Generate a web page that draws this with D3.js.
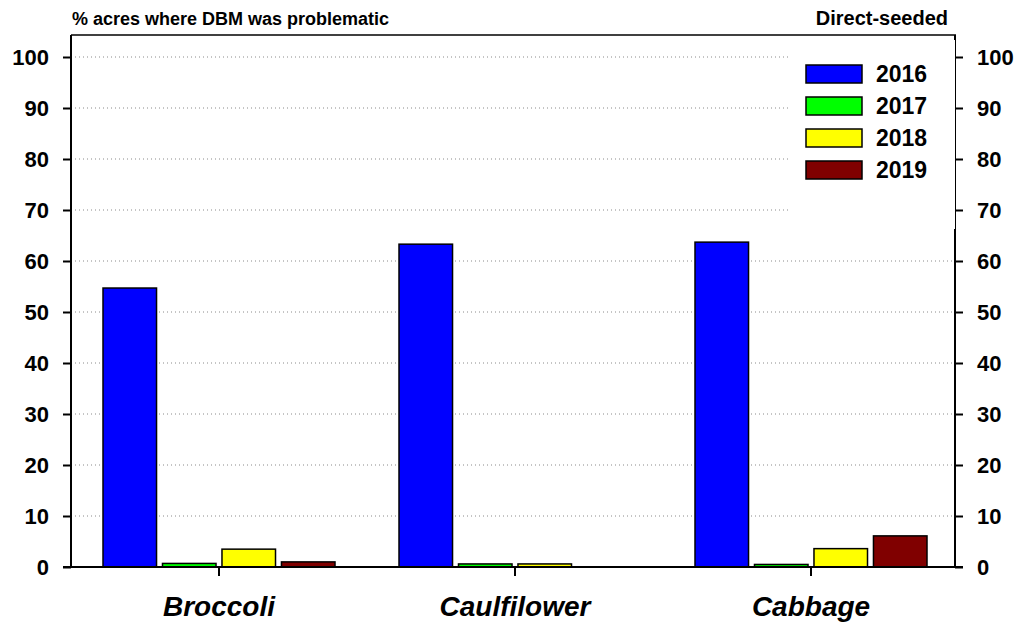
<!DOCTYPE html>
<html>
<head>
<meta charset="utf-8">
<script src="https://cdn.jsdelivr.net/npm/d3@7"></script>
<style>
  body { margin: 0; background: #fff; }
  text { font-family: "Liberation Sans", Arial, sans-serif; font-weight: bold; fill: #000; }
</style>
</head>
<body>
<div id="chart"></div>
<script>
// Data
const crops = ["Broccoli", "Caulfilower", "Cabbage"];
const years = ["2016", "2017", "2018", "2019"];
const yearColors = ["#0000ff", "#00ff00", "#ffff00", "#800000"];
const values2016 = [54.7, 63.3, 63.7];
const values2017 = [0.7, 0.6, 0.5];
const values2018 = [3.5, 0.6, 3.6];
const values2019 = [1.0, 0, 6.1];
const yTicks = [0, 10, 20, 30, 40, 50, 60, 70, 80, 90, 100];

const seriesValues = [values2016, values2017, values2018, values2019];

const width = 1019, height = 626;
const plot = { left: 71, right: 955, top: 35, bottom: 567 };

const svg = d3.select("#chart").append("svg")
    .attr("width", width)
    .attr("height", height);

// Scales
const y = d3.scaleLinear().domain([0, 100]).range([plot.bottom, 57]);
const x = d3.scaleBand().domain(crops).range([plot.left, plot.right + 4]);
const xInner = d3.scaleBand().domain(years).range([0, 232]).paddingInner(0.1);

// Grid lines (dotted)
svg.append("g")
    .selectAll("line")
    .data(yTicks.filter(d => d > 0))
    .enter()
    .append("line")
    .attr("x1", plot.left)
    .attr("x2", plot.right)
    .attr("y1", d => y(d))
    .attr("y2", d => y(d))
    .attr("stroke", "#8a8a8a")
    .attr("stroke-width", 1)
    .attr("stroke-dasharray", "1,3");

// Bars
const rows = crops.flatMap((crop, i) =>
    years.map((yr, j) => ({ crop, year: yr, value: seriesValues[j][i], color: yearColors[j] }))
);

svg.append("g")
    .selectAll("rect")
    .data(rows.filter(d => d.value > 0))
    .enter()
    .append("rect")
    .attr("x", d => x(d.crop) + x.bandwidth() / 2 - 116 + xInner(d.year))
    .attr("y", d => y(d.value))
    .attr("width", xInner.bandwidth())
    .attr("height", d => y(0) - y(d.value))
    .attr("fill", d => d.color)
    .attr("stroke", "#000")
    .attr("stroke-width", 1.5);

// Frame: left, right, top
svg.append("line")
    .attr("x1", plot.left).attr("x2", plot.left)
    .attr("y1", plot.top).attr("y2", plot.bottom)
    .attr("stroke", "#000").attr("stroke-width", 2);
svg.append("line")
    .attr("x1", plot.right).attr("x2", plot.right)
    .attr("y1", plot.top).attr("y2", plot.bottom)
    .attr("stroke", "#000").attr("stroke-width", 2);
svg.append("line")
    .attr("x1", plot.left).attr("x2", plot.right + 1)
    .attr("y1", plot.top).attr("y2", plot.top)
    .attr("stroke", "#000").attr("stroke-width", 1.5);

// Left axis
const leftAxis = svg.append("g")
    .attr("transform", `translate(${plot.left},0)`)
    .call(d3.axisLeft(y).tickValues(yTicks).tickSize(8).tickPadding(14));
// Right axis
const rightAxis = svg.append("g")
    .attr("transform", `translate(${plot.right},0)`)
    .call(d3.axisRight(y).tickValues(yTicks).tickSize(8).tickPadding(14));

[leftAxis, rightAxis].forEach(ax => {
    ax.select(".domain").remove();
    ax.selectAll(".tick line").attr("stroke", "#000").attr("stroke-width", 2);
    ax.selectAll(".tick text")
        .attr("font-size", 22)
        .attr("font-family", "Liberation Sans, Arial, sans-serif")
        .attr("font-weight", "bold")
        .attr("fill", "#000");
});

// Bottom axis
svg.append("line")
    .attr("x1", plot.left - 8).attr("x2", plot.right + 8)
    .attr("y1", plot.bottom).attr("y2", plot.bottom)
    .attr("stroke", "#000").attr("stroke-width", 2);

svg.append("g")
    .selectAll("line")
    .data(crops)
    .enter()
    .append("line")
    .attr("x1", d => x(d) + x.bandwidth() / 2)
    .attr("x2", d => x(d) + x.bandwidth() / 2)
    .attr("y1", plot.bottom)
    .attr("y2", plot.bottom + 9)
    .attr("stroke", "#000")
    .attr("stroke-width", 2);

svg.append("g")
    .selectAll("text")
    .data(crops)
    .enter()
    .append("text")
    .attr("x", d => x(d) + x.bandwidth() / 2)
    .attr("y", 616)
    .attr("text-anchor", "middle")
    .attr("font-size", 28)
    .attr("font-style", "italic")
    .text(d => d);

// Legend (white box covers grid lines)
const legend = svg.append("g");
legend.append("rect")
    .attr("x", 790)
    .attr("y", 40)
    .attr("width", plot.right - 790)
    .attr("height", 189)
    .attr("fill", "#fff");

legend.selectAll(".legend-swatch")
    .data(years)
    .enter()
    .append("rect")
    .attr("class", "legend-swatch")
    .attr("x", 806)
    .attr("y", (d, i) => 65 + i * 32)
    .attr("width", 56)
    .attr("height", 18)
    .attr("fill", (d, i) => yearColors[i])
    .attr("stroke", "#000")
    .attr("stroke-width", 1.5);

legend.selectAll(".legend-label")
    .data(years)
    .enter()
    .append("text")
    .attr("class", "legend-label")
    .attr("x", 876)
    .attr("y", (d, i) => 82 + i * 32)
    .attr("font-size", 23)
    .text(d => d);

// Titles
svg.append("text")
    .attr("x", 72)
    .attr("y", 25)
    .attr("font-size", 18)
    .text("% acres where DBM was problematic");

svg.append("text")
    .attr("x", 948)
    .attr("y", 25)
    .attr("text-anchor", "end")
    .attr("font-size", 20)
    .text("Direct-seeded");
</script>
</body>
</html>
